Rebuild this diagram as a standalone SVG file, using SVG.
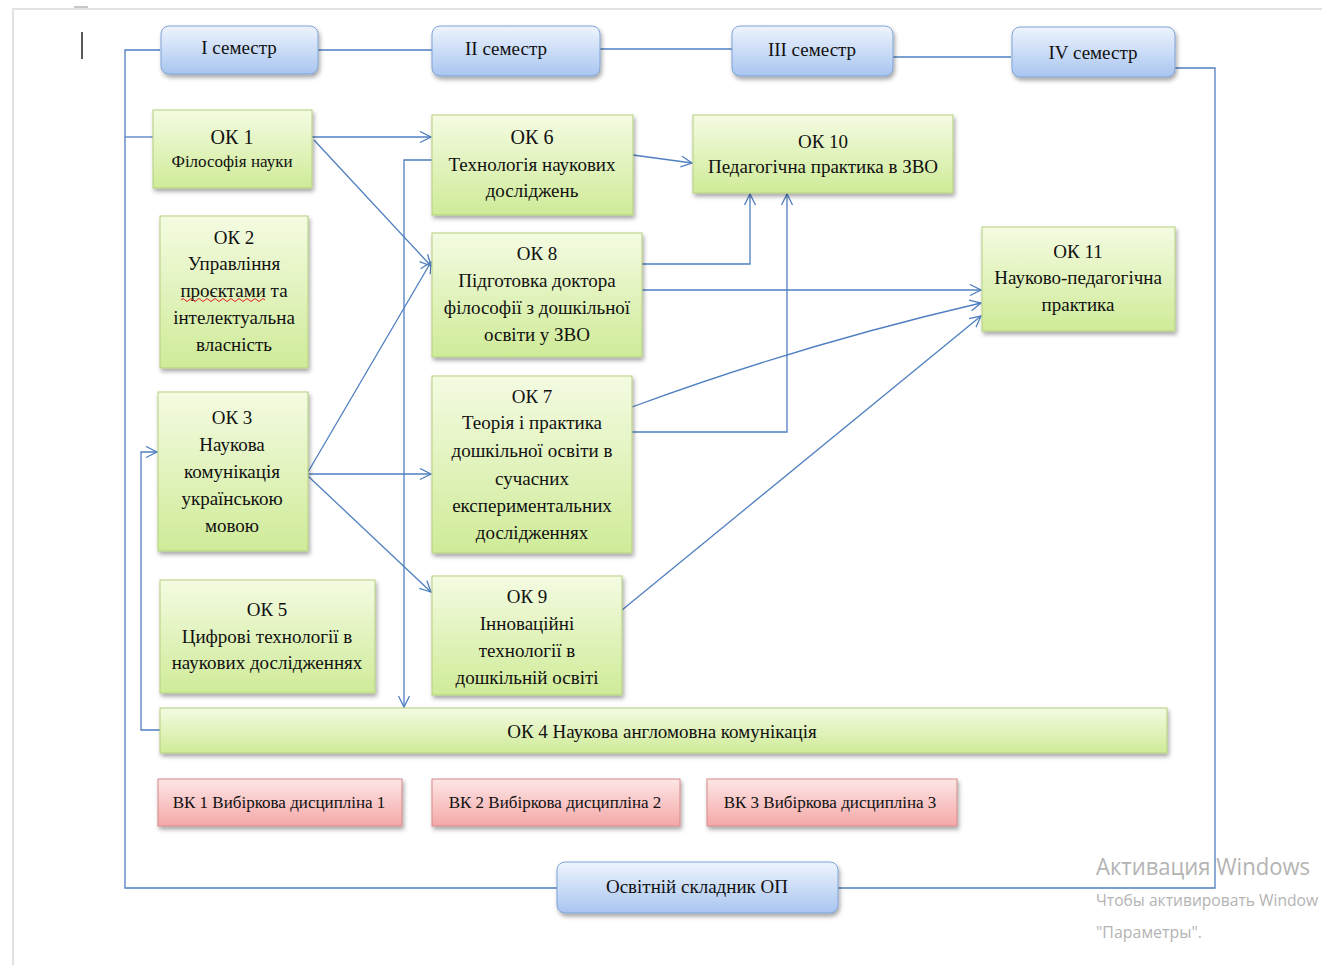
<svg xmlns="http://www.w3.org/2000/svg" width="1322" height="965" viewBox="0 0 1322 965">
<defs>
<style>
.t{font-family:"Liberation Serif","Times New Roman",serif;font-size:19px;fill:#111;text-anchor:middle;dominant-baseline:central}
.s{font-size:20px}
.v{font-size:17px}
.c{fill:none;stroke:#4f7fc0;stroke-width:1.3}
.g{fill:url(#gg);stroke:#b3cf7c;stroke-width:1;filter:url(#sh)}
.b{fill:url(#bg);stroke:#7fa3d6;stroke-width:1;filter:url(#sh)}
.r{fill:url(#rg);stroke:#d48a88;stroke-width:1;filter:url(#sh)}
.w{font-family:"Open Sans","Noto Sans",sans-serif;fill:#b4b4b4}
</style>
<linearGradient id="gg" x1="0" y1="0" x2="0" y2="1"><stop offset="0" stop-color="#f4fbe2"/><stop offset="1" stop-color="#cfeb98"/></linearGradient>
<linearGradient id="bg" x1="0" y1="0" x2="0" y2="1"><stop offset="0" stop-color="#eef4fd"/><stop offset="1" stop-color="#a8c5f0"/></linearGradient>
<linearGradient id="rg" x1="0" y1="0" x2="0" y2="1"><stop offset="0" stop-color="#fde6e6"/><stop offset="1" stop-color="#f4a8a7"/></linearGradient>
<filter id="sh" x="-10%" y="-10%" width="125%" height="140%"><feDropShadow dx="1.5" dy="3" stdDeviation="2" flood-color="#000" flood-opacity="0.35"/></filter>
<marker id="a" markerWidth="14" markerHeight="14" refX="12" refY="6" orient="auto" markerUnits="userSpaceOnUse"><path d="M1,0.5 L12,6 L1,11.5" fill="none" stroke="#4f7fc0" stroke-width="1.3"/></marker>
</defs>
<rect width="1322" height="965" fill="#fff"/>
<path d="M13,965 V9 H1322" fill="none" stroke="#e2e2e2" stroke-width="2"/>
<path d="M82,32 V59" stroke="#222" stroke-width="1.5"/>
<path d="M74,7 H88" stroke="#c8c8c8" stroke-width="2"/>

<g id="connectors">
<path class="c" d="M160,50 H125 V888 H557"/>
<path class="c" d="M838,888 H1215 V68 H1175"/>
<path class="c" d="M318,50 H432"/>
<path class="c" d="M600,49 H732"/>
<path class="c" d="M893,57 H1011"/>
<path class="c" d="M125,137 H153"/>
<path class="c" d="M312,137 H431" marker-end="url(#a)"/>
<path class="c" d="M314,140 L431,266" marker-end="url(#a)"/>
<path class="c" d="M633,155 L692,163" marker-end="url(#a)"/>
<path class="c" d="M432,160 H404 V707" marker-end="url(#a)"/>
<path class="c" d="M160,730 H141 V452 H157" marker-end="url(#a)"/>
<path class="c" d="M308,472 L431,262" marker-end="url(#a)"/>
<path class="c" d="M308,474 H431" marker-end="url(#a)"/>
<path class="c" d="M308,476 L431,592" marker-end="url(#a)"/>
<path class="c" d="M642,264 H750 V194" marker-end="url(#a)"/>
<path class="c" d="M642,290 H981" marker-end="url(#a)"/>
<path class="c" d="M632,407 Q800,345 981,303" marker-end="url(#a)"/>
<path class="c" d="M632,432 H787 V194" marker-end="url(#a)"/>
<path class="c" d="M622,610 L981,316" marker-end="url(#a)"/>
</g>

<g id="sem1"><rect class="b" x="161" y="26" width="157" height="48" rx="8"/><text class="t" x="239" y="47">I семестр</text></g>
<g id="sem2"><rect class="b" x="432" y="26" width="168" height="50" rx="8"/><text class="t" x="506" y="48">II семестр</text></g>
<g id="sem3"><rect class="b" x="732" y="26" width="161" height="50" rx="8"/><text class="t" x="812" y="49">III семестр</text></g>
<g id="sem4"><rect class="b" x="1012" y="27" width="163" height="50" rx="8"/><text class="t" x="1093" y="52">IV семестр</text></g>

<g id="ok1"><rect class="g" x="153" y="110" width="159" height="78"/><text class="t s" x="232" y="137">ОК 1</text><text class="t" x="232" y="161" style="font-size:17px">Філософія науки</text></g>
<g id="ok6"><rect class="g" x="432" y="115" width="201" height="100"/><text class="t s" x="532" y="137">ОК 6</text><text class="t" x="532" y="164">Технологія наукових</text><text class="t" x="532" y="190">досліджень</text></g>
<g id="ok10"><rect class="g" x="693" y="115" width="260" height="78"/><text class="t" x="823" y="141">ОК 10</text><text class="t" x="823" y="166">Педагогічна практика в ЗВО</text></g>
<g id="ok2"><rect class="g" x="160" y="216" width="148" height="152"/><text class="t" x="234" y="237">ОК 2</text><text class="t" x="234" y="263">Управління</text><text class="t" x="234" y="290">проєктами та</text><path d="M181,300 q2,-3 4,0 t4,0 t4,0 t4,0 t4,0 t4,0 t4,0 t4,0 t4,0 t4,0 t4,0 t4,0 t4,0 t4,0 t4,0 t4,0 t4,0 t4,0 t4,0 t4,0 t4,0" fill="none" stroke="#e02020" stroke-width="1"/><text class="t" x="234" y="317">інтелектуальна</text><text class="t" x="234" y="344">власність</text></g>
<g id="ok8"><rect class="g" x="432" y="233" width="210" height="124"/><text class="t" x="537" y="253">ОК 8</text><text class="t" x="537" y="280">Підготовка доктора</text><text class="t" x="537" y="307">філософії з дошкільної</text><text class="t" x="537" y="334">освіти у ЗВО</text></g>
<g id="ok11"><rect class="g" x="982" y="227" width="193" height="104"/><text class="t" x="1078" y="251">ОК 11</text><text class="t" x="1078" y="277">Науково-педагогічна</text><text class="t" x="1078" y="304">практика</text></g>
<g id="ok3"><rect class="g" x="158" y="392" width="150" height="159"/><text class="t" x="232" y="417">ОК 3</text><text class="t" x="232" y="444">Наукова</text><text class="t" x="232" y="471">комунікація</text><text class="t" x="232" y="498">українською</text><text class="t" x="232" y="525">мовою</text></g>
<g id="ok7"><rect class="g" x="432" y="376" width="200" height="177"/><text class="t" x="532" y="396">ОК 7</text><text class="t" x="532" y="422">Теорія і практика</text><text class="t" x="532" y="450">дошкільної освіти в</text><text class="t" x="532" y="478">сучасних</text><text class="t" x="532" y="505">експериментальних</text><text class="t" x="532" y="532">дослідженнях</text></g>
<g id="ok5"><rect class="g" x="160" y="580" width="215" height="113"/><text class="t" x="267" y="609">ОК 5</text><text class="t" x="267" y="636">Цифрові технології в</text><text class="t" x="267" y="662">наукових дослідженнях</text></g>
<g id="ok9"><rect class="g" x="432" y="576" width="190" height="119"/><text class="t" x="527" y="596">ОК 9</text><text class="t" x="527" y="623">Інноваційні</text><text class="t" x="527" y="650">технології в</text><text class="t" x="527" y="677">дошкільній освіті</text></g>
<g id="ok4"><rect class="g" x="160" y="708" width="1007" height="45"/><text class="t" x="662" y="731">ОК 4 Наукова англомовна комунікація</text></g>
<g id="vk1"><rect class="r" x="158" y="779" width="244" height="47"/><text class="t v" x="279" y="802">ВК 1 Вибіркова дисципліна 1</text></g>
<g id="vk2"><rect class="r" x="432" y="779" width="248" height="47"/><text class="t v" x="555" y="802">ВК 2 Вибіркова дисципліна 2</text></g>
<g id="vk3"><rect class="r" x="707" y="779" width="250" height="47"/><text class="t v" x="830" y="802">ВК 3 Вибіркова дисципліна 3</text></g>
<g id="osv"><rect class="b" x="557" y="862" width="281" height="51" rx="8"/><text class="t" x="697" y="886">Освітній складник ОП</text></g>

<text class="w" x="1096" y="875" style="font-size:24px" textLength="214" lengthAdjust="spacingAndGlyphs">Активация Windows</text>
<text class="w" x="1096" y="906" style="font-size:17px" textLength="222" lengthAdjust="spacingAndGlyphs">Чтобы активировать Window</text>
<text class="w" x="1096" y="938" style="font-size:17px" textLength="106" lengthAdjust="spacingAndGlyphs">"Параметры".</text>
</svg>
